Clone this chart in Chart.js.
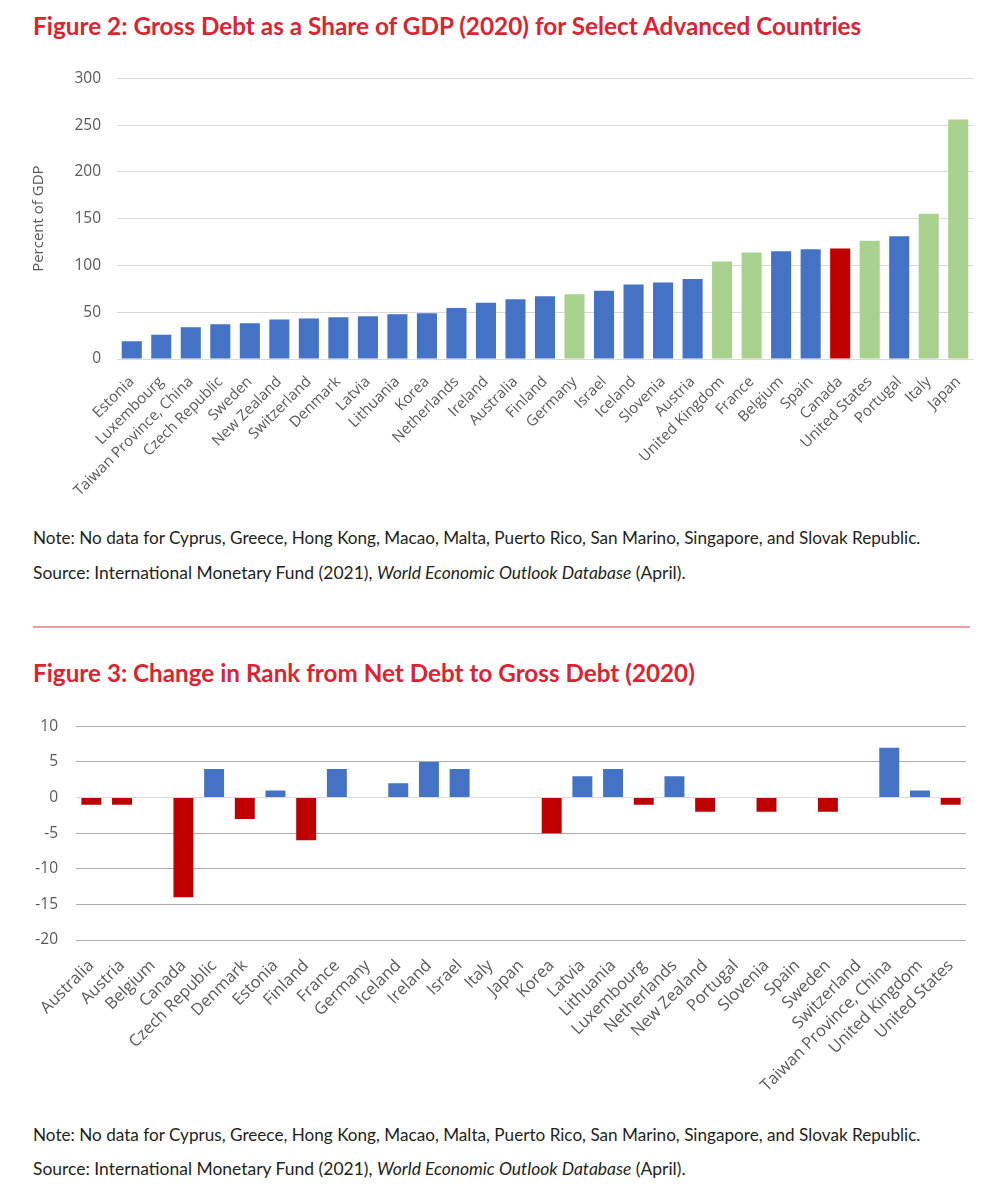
<!DOCTYPE html>
<html>
<head>
<meta charset="utf-8">
<title>Gross Debt and Rank Change</title>
<script src="https://cdn.jsdelivr.net/npm/chart.js@4"></script>
<style>
  body { margin: 0; background: #fff; width: 992px; height: 1195px; position: relative; overflow: hidden; }
  .txt { position: absolute; left: 33px; white-space: nowrap; line-height: 1; }
  .title { font-family: Lato, sans-serif; font-weight: 700; color: #DC2332; font-size: 24px; }
  .note { font-family: Lato, sans-serif; color: #231F20; font-size: 16px; }
  .rule { position: absolute; left: 33px; width: 937px; top: 626px; height: 2px; background: #F09CA3; }
  .box { position: absolute; left: 0; }
</style>
</head>
<body>
  <div class="txt title" data-w="829" data-base="36">Figure 2: Gross Debt as a Share of GDP (2020) for Select Advanced Countries</div>
  <div class="box" style="top:53px"><canvas id="grossChart" width="992" height="452"></canvas></div>
  <div class="txt note" data-w="888" data-base="544">Note: No data for Cyprus, Greece, Hong Kong, Macao, Malta, Puerto Rico, San Marino, Singapore, and Slovak Republic.</div>
  <div class="txt note" data-w="653" data-base="580">Source: International Monetary Fund (2021), <i>World Economic Outlook Database</i> (April).</div>
  <div class="rule"></div>
  <div class="txt title" data-w="662" data-base="683">Figure 3: Change in Rank from Net Debt to Gross Debt (2020)</div>
  <div class="box" style="top:699px"><canvas id="rankChart" width="992" height="400"></canvas></div>
  <div class="txt note" data-w="888" data-base="1141">Note: No data for Cyprus, Greece, Hong Kong, Macao, Malta, Puerto Rico, San Marino, Singapore, and Slovak Republic.</div>
  <div class="txt note" data-w="653" data-base="1176">Source: International Monetary Fund (2021), <i>World Economic Outlook Database</i> (April).</div>

<script>
// Figure 2: gross debt, percent of GDP (2020)
const grossCountries = ['Estonia', 'Luxembourg', 'Taiwan Province, China', 'Czech Republic', 'Sweden',
  'New Zealand', 'Switzerland', 'Denmark', 'Latvia', 'Lithuania', 'Korea', 'Netherlands', 'Ireland',
  'Australia', 'Finland', 'Germany', 'Israel', 'Iceland', 'Slovenia', 'Austria', 'United Kingdom',
  'France', 'Belgium', 'Spain', 'Canada', 'United States', 'Portugal', 'Italy', 'Japan'];
const grossDebt = [19.1, 25.9, 34.0, 37.2, 38.3, 42.2, 43.2, 44.6, 45.7, 47.8, 48.9, 54.6, 60.2,
  63.8, 67.0, 69.1, 73.0, 79.7, 81.8, 85.4, 104.1, 113.7, 115.1, 117.3, 118.0, 126.5, 131.1, 155.2, 256.1];
const g7Countries = ['Germany', 'United Kingdom', 'France', 'United States', 'Italy', 'Japan'];
const highlightCountry = 'Canada';
const grossTicks = [0, 50, 100, 150, 200, 250, 300];

// Figure 3: change in rank from net debt to gross debt (2020)
const rankCountries = ['Australia', 'Austria', 'Belgium', 'Canada', 'Czech Republic', 'Denmark',
  'Estonia', 'Finland', 'France', 'Germany', 'Iceland', 'Ireland', 'Israel', 'Italy', 'Japan', 'Korea',
  'Latvia', 'Lithuania', 'Luxembourg', 'Netherlands', 'New Zealand', 'Portugal', 'Slovenia', 'Spain',
  'Sweden', 'Switzerland', 'Taiwan Province, China', 'United Kingdom', 'United States'];
const rankChange = [-1, -1, 0, -14, 4, -3, 1, -6, 4, 0, 2, 5, 4, 0, 0, -5, 3, 4, -1, 3, -2, 0, -2, 0,
  -2, 0, 7, 1, -1];
const rankTicks = [-20, -15, -10, -5, 0, 5, 10];

const BLUE = '#4472C4', GREEN = '#A9D18E', RED = '#C00000';
const LABEL_FONT = "'Open Sans', sans-serif";

// size the text blocks so their widths and baselines line up with the original
document.querySelectorAll('.txt').forEach(el => {
  el.style.display = 'inline-block';
  const fs = parseFloat(getComputedStyle(el).fontSize);
  const w = el.getBoundingClientRect().width;
  const size = fs * (+el.dataset.w) / w;
  el.style.fontSize = size + 'px';
  el.style.top = (+el.dataset.base - size * 0.887) + 'px';
});

new Chart(document.getElementById('grossChart'), {
  type: 'bar',
  data: {
    labels: grossCountries,
    datasets: [{
      data: grossDebt,
      backgroundColor: grossCountries.map(c =>
        c === highlightCountry ? RED : g7Countries.includes(c) ? GREEN : BLUE),
      categoryPercentage: 1,
      barPercentage: 0.68
    }]
  },
  options: {
    responsive: false,
    animation: false,
    layout: { padding: { top: 0, right: 19, left: 0, bottom: 0 } },
    plugins: { legend: { display: false }, tooltip: { enabled: false } },
    scales: {
      x: {
        grid: { display: false },
        border: { color: '#D9D9D9', width: 1 },
        ticks: {
          autoSkip: false, minRotation: 45, maxRotation: 45, padding: 6,
          color: '#595959', font: { family: LABEL_FONT, size: 15 }
        },
        afterFit: s => { s.height = 146; }
      },
      y: {
        min: 0, max: 300,
        afterBuildTicks: s => { s.ticks = grossTicks.map(v => ({ value: v })); },
        grid: { color: '#D9D9D9', lineWidth: 1, drawTicks: false },
        border: { display: false },
        ticks: { padding: 16, color: '#595959', font: { family: LABEL_FONT, size: 15.5 } },
        title: {
          display: true, text: 'Percent of GDP', color: '#595959',
          font: { family: LABEL_FONT, size: 15 }, padding: { top: 30, bottom: 0 }
        },
        afterFit: s => { s.width = 117; }
      }
    }
  }
});

new Chart(document.getElementById('rankChart'), {
  type: 'bar',
  data: {
    labels: rankCountries,
    datasets: [{
      data: rankChange,
      backgroundColor: rankChange.map(v => v < 0 ? RED : BLUE),
      categoryPercentage: 1,
      barPercentage: 0.65
    }]
  },
  options: {
    responsive: false,
    animation: false,
    layout: { padding: { top: 0, right: 26, left: 0, bottom: 0 } },
    plugins: { legend: { display: false }, tooltip: { enabled: false } },
    scales: {
      x: {
        grid: { display: false },
        border: { display: false },
        ticks: {
          autoSkip: false, minRotation: 45, maxRotation: 45, padding: 8,
          color: '#595959', font: { family: LABEL_FONT, size: 16.5 }
        },
        afterFit: s => { s.height = 159; }
      },
      y: {
        min: -20, max: 10,
        afterBuildTicks: s => { s.ticks = rankTicks.map(v => ({ value: v })); },
        grid: {
          drawTicks: false, lineWidth: 1,
          color: ctx => ctx.tick && ctx.tick.value === 0 ? '#D9D9D9' : '#ABABAB',
          dash: ctx => ctx.tick && ctx.tick.value === 0 ? [] : [1, 2]
        },
        border: { display: false },
        ticks: { padding: 18, color: '#595959', font: { family: LABEL_FONT, size: 15.5 } },
        afterFit: s => { s.width = 76; }
      }
    }
  }
});
</script>
</body>
</html>
